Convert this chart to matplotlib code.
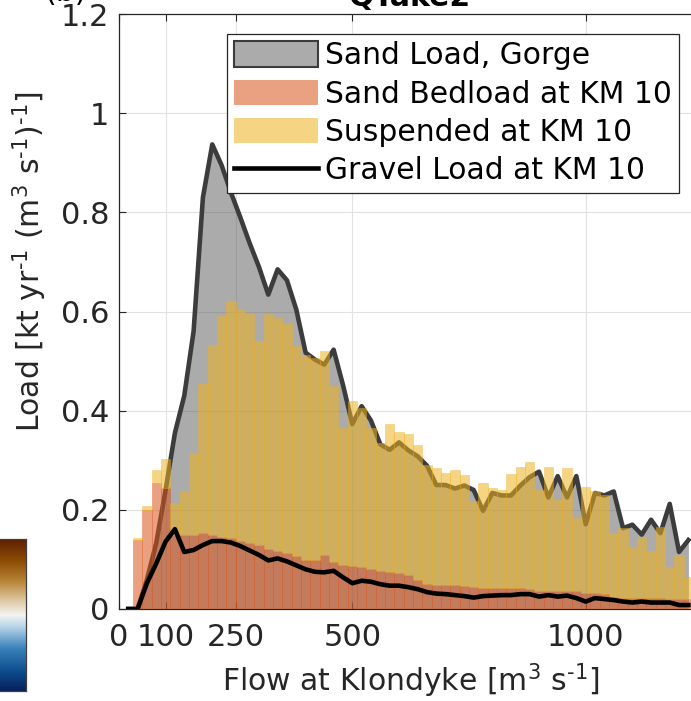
import numpy as np
import matplotlib
matplotlib.use("Agg")
import matplotlib.pyplot as plt
from matplotlib.patches import Patch
from matplotlib.lines import Line2D
from matplotlib.colors import LinearSegmentedColormap

plt.rcParams['font.family'] = ['DejaVu Sans']
plt.rcParams['mathtext.default'] = 'regular'

# ---- data (bin centres, m3/s) ----
flow = [20, 40, 60, 80, 100, 120, 140, 160, 180, 200,
        220, 240, 260, 280, 300, 320, 340, 360, 380, 400,
        420, 440, 460, 480, 500, 520, 540, 560, 580, 600,
        620, 640, 660, 680, 700, 720, 740, 760, 780, 800,
        820, 840, 860, 880, 900, 920, 940, 960, 980, 1000,
        1020, 1040, 1060, 1080, 1100, 1120, 1140, 1160, 1180, 1200,
        1220]

sand_gorge = [0.0, 0.0, 0.059, 0.133, 0.24, 0.355, 0.43, 0.56, 0.83, 0.937,
              0.895, 0.84, 0.79, 0.738, 0.69, 0.634, 0.685, 0.663, 0.604, 0.517,
              0.503, 0.493, 0.523, 0.452, 0.373, 0.409, 0.38, 0.332, 0.321, 0.336,
              0.32, 0.308, 0.289, 0.25, 0.25, 0.243, 0.249, 0.24, 0.198, 0.234,
              0.229, 0.229, 0.249, 0.266, 0.277, 0.225, 0.268, 0.225, 0.268, 0.171,
              0.234, 0.229, 0.237, 0.163, 0.17, 0.15, 0.18, 0.153, 0.212, 0.115,
              0.139]

sand_bedload = [0.0, 0.139, 0.199, 0.254, 0.244, 0.150, 0.150, 0.150, 0.153, 0.150,
                0.146, 0.143, 0.138, 0.133, 0.129, 0.121, 0.116, 0.112, 0.106, 0.099,
                0.099, 0.108, 0.094, 0.088, 0.087, 0.084, 0.080, 0.077, 0.075, 0.072,
                0.068, 0.058, 0.050, 0.048, 0.048, 0.048, 0.047, 0.045, 0.042, 0.042,
                0.042, 0.042, 0.042, 0.041, 0.037, 0.037, 0.037, 0.037, 0.036, 0.032,
                0.032, 0.030, 0.024, 0.022, 0.022, 0.022, 0.022, 0.022, 0.020, 0.020,
                0.020]

suspended = [0.0, 0.004, 0.008, 0.027, 0.059, 0.064, 0.087, 0.165, 0.300, 0.383,
             0.444, 0.478, 0.466, 0.461, 0.411, 0.473, 0.471, 0.462, 0.424, 0.413,
             0.407, 0.412, 0.355, 0.277, 0.332, 0.321, 0.285, 0.258, 0.298, 0.285,
             0.285, 0.273, 0.240, 0.236, 0.226, 0.233, 0.224, 0.172, 0.212, 0.202,
             0.198, 0.231, 0.244, 0.255, 0.203, 0.249, 0.183, 0.247, 0.147, 0.215,
             0.205, 0.200, 0.129, 0.141, 0.104, 0.124, 0.094, 0.144, 0.065, 0.089,
             0.045]

gravel = [0.0, 0.0, 0.052, 0.092, 0.136, 0.161, 0.115, 0.119, 0.129, 0.137,
          0.137, 0.134, 0.127, 0.118, 0.109, 0.098, 0.102, 0.096, 0.088, 0.080,
          0.075, 0.074, 0.077, 0.064, 0.052, 0.057, 0.055, 0.050, 0.047, 0.047,
          0.044, 0.040, 0.034, 0.031, 0.030, 0.028, 0.026, 0.023, 0.026, 0.027,
          0.028, 0.028, 0.030, 0.030, 0.025, 0.028, 0.025, 0.027, 0.022, 0.015,
          0.022, 0.020, 0.018, 0.015, 0.013, 0.015, 0.013, 0.013, 0.013, 0.008,
          0.008]

xtick_vals = [0, 100, 250, 500, 1000]
ytick_vals = [0, 0.2, 0.4, 0.6, 0.8, 1.0, 1.2]
ytick_labels = ['0', '0.2', '0.4', '0.6', '0.8', '1', '1.2']
legend_labels = ['Sand Load, Gorge', 'Sand Bedload at KM 10',
                 'Suspended at KM 10', 'Gravel Load at KM 10']

# ---- figure ----
W, H = 691, 701
fig = plt.figure(figsize=(W / 100, H / 100), dpi=100)

ax_l, ax_r, ax_t, ax_b = 118.9, 702.4, 14.0, 609.0
ax = fig.add_axes([ax_l / W, (H - ax_b) / H, (ax_r - ax_l) / W, (ax_b - ax_t) / H])

grey_c = '#585858'
bed_c = '#d9541a'
sus_c = '#edb120'
alpha_bar = 0.55
txt_c = '#262626'

ax.fill_between(flow, sand_gorge, color=grey_c, alpha=0.5, lw=0, zorder=1)
ax.plot(flow, sand_gorge, color='#3c3c3c', lw=3.3, zorder=2)
ax.bar(flow, sand_bedload, width=20, color=bed_c, alpha=alpha_bar,
       edgecolor=bed_c, lw=0.4, zorder=3)
ax.bar(flow, suspended, bottom=sand_bedload, width=20, color=sus_c,
       alpha=alpha_bar, edgecolor=sus_c, lw=0.4, zorder=3)
ax.plot(flow, gravel, color='black', lw=3.3, zorder=4)

ax.set_xlim(0, 1250)
ax.set_ylim(0, 1.2)
ax.set_xticks(xtick_vals)
ax.set_xticklabels([str(v) for v in xtick_vals])
ax.set_yticks(ytick_vals)
ax.set_yticklabels(ytick_labels)

ax.set_axisbelow(True)
ax.grid(True, color='#e2e2e2', lw=0.8)
for s in ax.spines.values():
    s.set_color(txt_c)
    s.set_linewidth(0.9)
ax.tick_params(direction='in', length=5, width=0.8, top=True, right=True,
               labelsize=22, colors=txt_c)
ax.tick_params(axis='x', pad=10)
ax.tick_params(axis='y', pad=7)

ax.set_xlabel(r'Flow at Klondyke [m$^3$ s$^{\text{-}1}$]', fontsize=21.5,
              color=txt_c, labelpad=7)
ax.set_ylabel(r'Load [kt yr$^{\text{-}1}$ (m$^3$ s$^{\text{-}1}$)$^{\text{-}1}$]',
              fontsize=21.5, color=txt_c)
ax.yaxis.set_label_coords((49 - ax_l) / (ax_r - ax_l), (ax_b - 262) / (ax_b - ax_t))

handles = [Patch(facecolor=(0.345, 0.345, 0.345, 0.5), edgecolor='#3c3c3c', lw=1.5),
           Patch(facecolor=bed_c, alpha=alpha_bar, lw=0),
           Patch(facecolor=sus_c, alpha=alpha_bar, lw=0),
           Line2D([0], [0], color='black', lw=3.3)]
leg = ax.legend(handles, legend_labels, loc='upper left',
                bbox_to_anchor=(227 / W, 1 - 34 / H), bbox_transform=fig.transFigure,
                fontsize=21.4, frameon=True, fancybox=False, framealpha=1,
                edgecolor=txt_c, borderaxespad=0, borderpad=0.25,
                handlelength=2.8, handleheight=0.94, handletextpad=0.25,
                labelspacing=0.31)
leg.get_frame().set_linewidth(0.9)
leg.set_zorder(10)

# title and panel label (cropped at the top)
fig.text(410 / W, 1 - 6 / H, 'QTake2', ha='center', va='baseline',
         fontsize=21.5, fontweight='bold', color='black')
fig.text(66 / W, 1 - 1 / H, '(b)', ha='center', va='baseline',
         fontsize=21.5, color='black')

# colorbar fragment
cmap = LinearSegmentedColormap.from_list('bb', [
    (0.0, '#0a1f5c'), (0.12, '#0b4a8a'), (0.28, '#3a82ba'), (0.42, '#b5d3e8'),
    (0.5, '#f4f4f2'), (0.6, '#dcc7a0'), (0.72, '#b98638'), (0.85, '#8f4f06'),
    (1.0, '#5e1f00')])
cax = fig.add_axes([-2 / W, (H - 691) / H, 28 / W, 152 / H])
cax.imshow(np.linspace(1, 0, 256)[:, None], aspect='auto', cmap=cmap,
           extent=[0, 1, 0, 1])
cax.set_xticks([])
cax.set_yticks([])
for s in cax.spines.values():
    s.set_color('#404040')
    s.set_linewidth(0.9)

fig.savefig('out.png', dpi=100)
